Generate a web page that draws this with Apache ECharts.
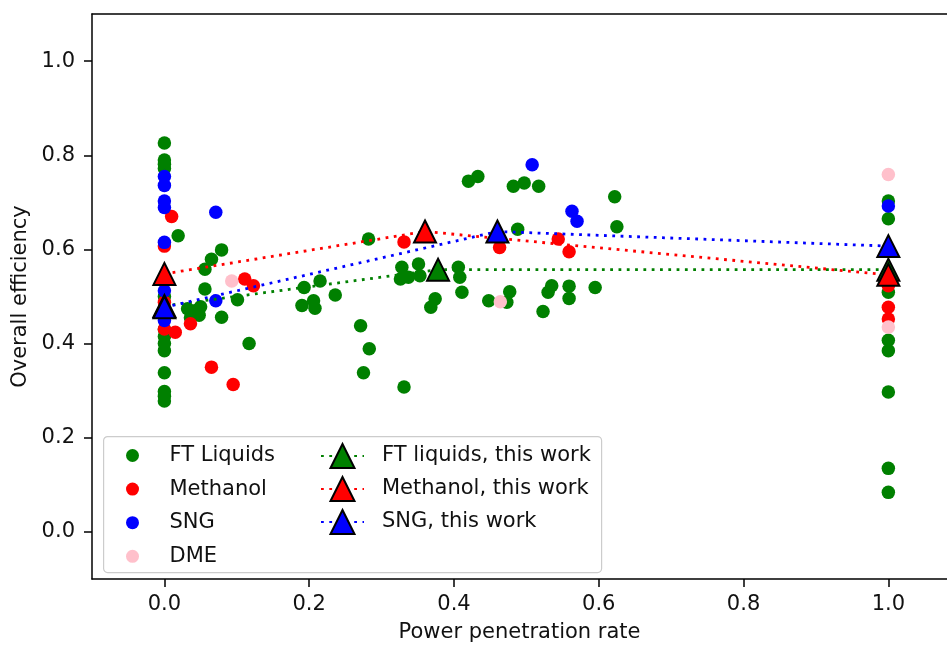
<!DOCTYPE html>
<html>
<head>
<meta charset="utf-8">
<script src="https://cdn.jsdelivr.net/npm/echarts@6/dist/echarts.min.js"></script>
<style>
  html, body { margin: 0; padding: 0; background: #fff; }
  #chart { width: 947px; height: 648px; }
</style>
</head>
<body>
<div id="chart"></div>
<script>
// Literature values: [power penetration rate, overall efficiency]
const ftLiquids = [
  [0, 0.826], [0, 0.790], [0, 0.781], [0, 0.772], [0, 0.500], [0, 0.460],
  [0, 0.430], [0, 0.415], [0, 0.400], [0, 0.385], [0, 0.338], [0, 0.298],
  [0, 0.288], [0, 0.278],
  [0.019, 0.629], [0.079, 0.599], [0.065, 0.579], [0.056, 0.558], [0.056, 0.516],
  [0.101, 0.493], [0.079, 0.456], [0.117, 0.400],
  [0.032, 0.474], [0.042, 0.470], [0.050, 0.478], [0.036, 0.455], [0.048, 0.460],
  [0.193, 0.519], [0.215, 0.533], [0.236, 0.503], [0.190, 0.481], [0.206, 0.491],
  [0.208, 0.475], [0.282, 0.622], [0.271, 0.438], [0.283, 0.389], [0.275, 0.338],
  [0.331, 0.308], [0.328, 0.562], [0.351, 0.569], [0.326, 0.537], [0.337, 0.541],
  [0.353, 0.544], [0.406, 0.562], [0.408, 0.541], [0.411, 0.509], [0.374, 0.495],
  [0.368, 0.477], [0.420, 0.745], [0.433, 0.755], [0.482, 0.734], [0.497, 0.741],
  [0.517, 0.734], [0.448, 0.491], [0.473, 0.488], [0.477, 0.510], [0.488, 0.643],
  [0.535, 0.523], [0.530, 0.509], [0.559, 0.522], [0.559, 0.496], [0.595, 0.519],
  [0.523, 0.468], [0.622, 0.712], [0.625, 0.648],
  [1, 0.703], [1, 0.665], [1, 0.530], [1, 0.509], [1, 0.407], [1, 0.385],
  [1, 0.297], [1, 0.135], [1, 0.084]
];
const methanol = [
  [0.010, 0.670], [0, 0.607], [0, 0.488], [0, 0.431], [0.015, 0.424],
  [0.036, 0.442], [0.065, 0.350], [0.095, 0.313], [0.111, 0.537], [0.123, 0.523],
  [0.331, 0.616], [0.463, 0.604], [0.544, 0.622], [0.559, 0.595],
  [1, 0.550], [1, 0.523], [1, 0.477], [1, 0.452]
];
const sng = [
  [0, 0.755], [0, 0.736], [0, 0.703], [0, 0.689], [0, 0.615], [0, 0.512],
  [0, 0.470], [0, 0.449], [0.071, 0.679], [0.071, 0.491], [0.508, 0.780],
  [0.563, 0.681], [0.570, 0.660], [1, 0.692]
];
const dme = [
  [0.093, 0.533], [0.464, 0.489], [1, 0.759], [1, 0.435]
];

// Results of this work
const ftThisWork = [[0, 0.480], [0.378, 0.557], [1, 0.557]];
const methanolThisWork = [[0, 0.548], [0.36, 0.638], [1, 0.546]];
const sngThisWork = [[0, 0.477], [0.46, 0.638], [1, 0.607]];

const xTicks = [0, 0.2, 0.4, 0.6, 0.8, 1.0];
const yTicks = [0, 0.2, 0.4, 0.6, 0.8, 1.0];

const FONT = 'DejaVu Sans';
const TEXT = '#111';
const FS = 21;

const chart = echarts.init(document.getElementById('chart'), null, { renderer: 'canvas' });

function scatter(name, data, color) {
  return {
    name, type: 'scatter', data, symbol: 'circle', symbolSize: 13.5, z: 2,
    itemStyle: { color, opacity: 1 },
    emphasis: { disabled: true }
  };
}
function workLine(name, data, color) {
  return {
    name, type: 'line', data, symbol: 'triangle', symbolSize: 22, z: 3,
    showSymbol: true,
    lineStyle: { color, width: 2.8, type: [2.8, 5.5], cap: 'butt' },
    itemStyle: { color, borderColor: '#000', borderWidth: 2 },
    emphasis: { disabled: true }
  };
}

const lineBlack = { color: '#000', width: 1.5 };

chart.setOption({
  animation: false,
  backgroundColor: '#fff',
  grid: { left: 92, top: 14, right: 0, bottom: 66 },
  xAxis: [{
    type: 'value', min: -0.1, max: 1.081,
    splitLine: { show: false },
    axisLine: { show: true, onZero: false, lineStyle: lineBlack },
    axisTick: { show: true, length: 8, lineStyle: lineBlack, customValues: xTicks },
    axisLabel: {
      customValues: xTicks, margin: 15,
      fontFamily: FONT, fontSize: FS, color: TEXT,
      formatter: v => v.toFixed(1)
    },
    name: 'Power penetration rate', nameLocation: 'middle', nameGap: 43,
    nameTextStyle: { fontFamily: FONT, fontSize: FS, color: TEXT }
  }, {
    // top frame line only
    type: 'value', position: 'top', min: -0.1, max: 1.081,
    splitLine: { show: false },
    axisLine: { show: true, onZero: false, lineStyle: lineBlack },
    axisTick: { show: false },
    axisLabel: { show: false }
  }],
  yAxis: {
    type: 'value', min: -0.1, max: 1.1,
    splitLine: { show: false },
    axisLine: { show: true, onZero: false, lineStyle: lineBlack },
    axisTick: { show: true, length: 8, lineStyle: lineBlack, customValues: yTicks },
    axisLabel: {
      customValues: yTicks, margin: 17,
      fontFamily: FONT, fontSize: FS, color: TEXT,
      formatter: v => v.toFixed(1)
    },
    name: 'Overall efficiency', nameLocation: 'middle', nameGap: 57,
    nameTextStyle: { fontFamily: FONT, fontSize: FS, color: TEXT }
  },
  graphic: [{
    type: 'rect', left: 103, top: 436, z: 50,
    shape: { width: 498, height: 136, r: 4 },
    style: { fill: 'rgba(255,255,255,0.8)', stroke: '#cccccc', lineWidth: 1.2 }
  }],
  legend: [{
    data: ['FT Liquids', 'Methanol', 'SNG', 'DME'],
    orient: 'vertical', left: 126, top: 445, z: 60,
    itemWidth: 40, itemHeight: 13, itemGap: 12.6, padding: 0,
    selectedMode: false,
    textStyle: { fontFamily: FONT, fontSize: FS, color: TEXT, lineHeight: 20, padding: [0, 0, 0, 12] }
  }, {
    data: ['FT liquids, this work', 'Methanol, this work', 'SNG, this work'],
    orient: 'vertical', left: 320, top: 443, z: 60,
    itemWidth: 43, itemHeight: 30, itemGap: 7, padding: 0,
    selectedMode: false,
    textStyle: { fontFamily: FONT, fontSize: FS, color: TEXT, lineHeight: 20, padding: [0, 0, 0, 13] }
  }],
  series: [
    scatter('FT Liquids', ftLiquids, '#008000'),
    scatter('Methanol', methanol, '#ff0000'),
    scatter('SNG', sng, '#0000ff'),
    scatter('DME', dme, '#ffc0cb'),
    workLine('FT liquids, this work', ftThisWork, '#008000'),
    workLine('Methanol, this work', methanolThisWork, '#ff0000'),
    workLine('SNG, this work', sngThisWork, '#0000ff')
  ]
});
</script>
</body>
</html>
